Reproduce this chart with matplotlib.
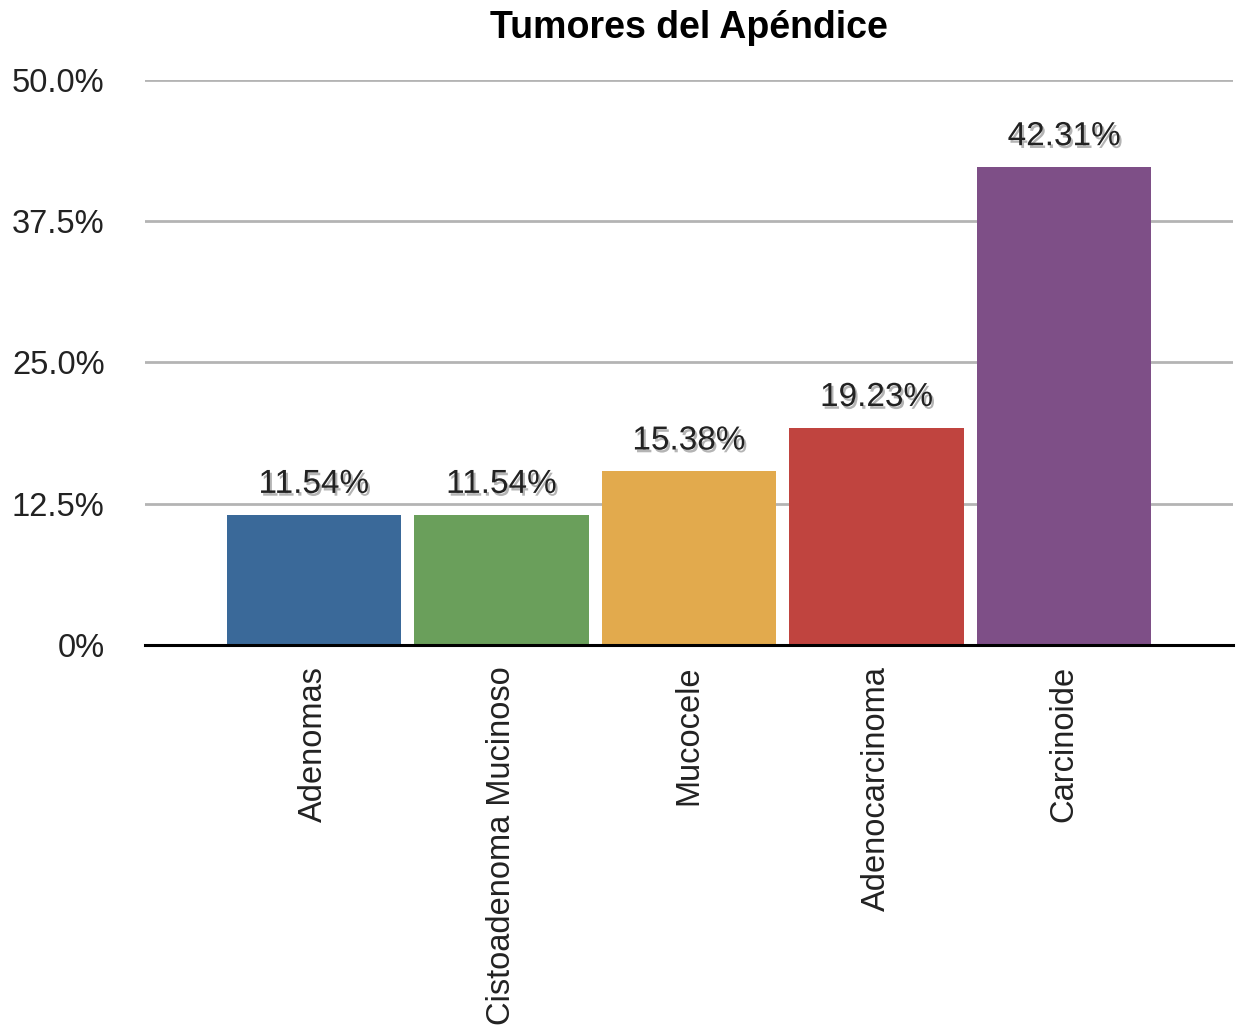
import numpy as np
import matplotlib
matplotlib.use("Agg")
import matplotlib.pyplot as plt
import matplotlib.patheffects as pe
from matplotlib.ticker import FixedLocator

plt.rcParams['font.family'] = ['Liberation Sans', 'DejaVu Sans']

categorias = ["Adenomas", "Cistoadenoma Mucinoso", "Mucocele", "Adenocarcinoma", "Carcinoide"]
porcentajes = [11.54, 11.54, 15.38, 19.23, 42.31]
colores = ["#3a6999", "#6a9f5b", "#e2aa4d", "#c0443f", "#7e4f87"]
yticks = [0, 12.5, 25.0, 37.5, 50.0]
yticklabels = ["0%", "12.5%", "25.0%", "37.5%", "50.0%"]

fig = plt.figure(figsize=(12.36, 10.32), dpi=100)
ax = fig.add_axes([0.1173, 0.375, 0.8803, 0.5475])

x = np.arange(len(categorias))
ax.bar(x, porcentajes, width=0.93, color=colores, zorder=3)

ax.set_xlim(-0.9, len(categorias) - 0.1)
ax.set_ylim(0, 50)
ax.yaxis.set_major_locator(FixedLocator(yticks))
ax.set_yticklabels(yticklabels, fontsize=23.5, color="#222222")
for yv in yticks[1:]:
    ax.axhline(yv, color="#b4b4b4", lw=2, zorder=1)
ax.axhline(0, color="black", lw=2.2, zorder=4, clip_on=False)

ax.set_xticks(x)
ax.set_xticklabels(categorias, rotation=90, fontsize=23.5, color="#222222", va="top")
ax.tick_params(axis="both", length=0)
ax.tick_params(axis="y", pad=29)
ax.tick_params(axis="x", pad=15)
for s in ax.spines.values():
    s.set_visible(False)

sombra = [pe.SimplePatchShadow(offset=(1.5, -2), shadow_rgbFace="#777777", alpha=0.55), pe.Normal()]
for xi, v in zip(x, porcentajes):
    ax.text(xi, v + 1.3, "%.2f%%" % v, ha="center", va="bottom", fontsize=24,
            color="#222222", path_effects=sombra, zorder=5)

fig.suptitle("Tumores del Apéndice", fontsize=27, fontweight="bold", x=0.557, y=0.99, va="top")

fig.savefig("out.png", dpi=100)
